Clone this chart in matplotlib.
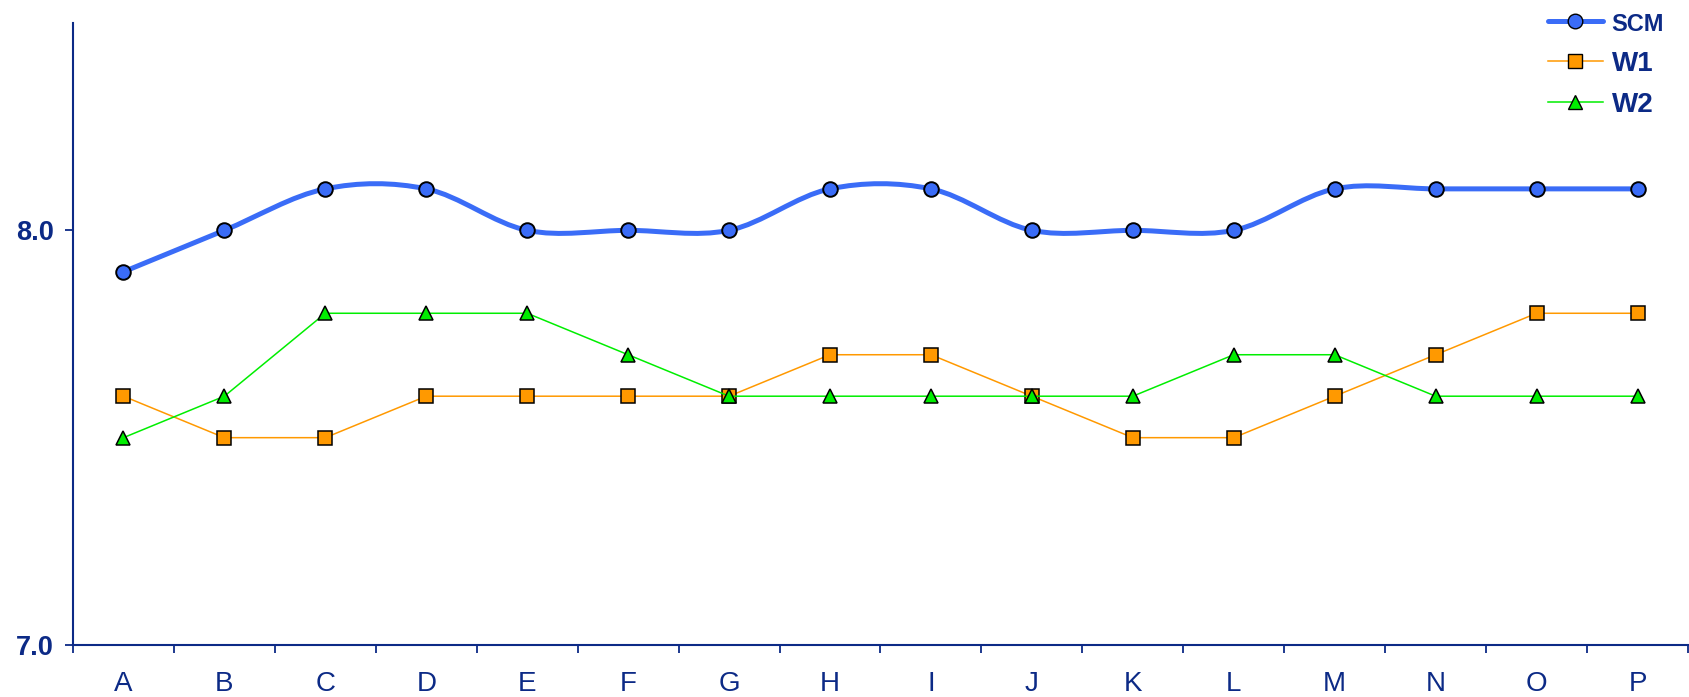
import matplotlib
matplotlib.use("Agg")

import matplotlib.pyplot as plt
import numpy as np
from matplotlib.path import Path
from matplotlib.patches import PathPatch
from matplotlib.lines import Line2D

plt.rcParams["font.family"] = ["Liberation Sans", "DejaVu Sans"]

categories = ["A", "B", "C", "D", "E", "F", "G", "H", "I", "J", "K", "L", "M", "N", "O", "P"]
scm = [7.9, 8.0, 8.1, 8.1, 8.0, 8.0, 8.0, 8.1, 8.1, 8.0, 8.0, 8.0, 8.1, 8.1, 8.1, 8.1]
w1 = [7.6, 7.5, 7.5, 7.6, 7.6, 7.6, 7.6, 7.7, 7.7, 7.6, 7.5, 7.5, 7.6, 7.7, 7.8, 7.8]
w2 = [7.5, 7.6, 7.8, 7.8, 7.8, 7.7, 7.6, 7.6, 7.6, 7.6, 7.6, 7.7, 7.7, 7.6, 7.6, 7.6]

NAVY = "#0c2a86"
BLUE = "#3a6cf7"
ORANGE = "#ff9900"
GREEN = "#00ee00"


def smooth_path(x, y):
    # bezier curve through the points (like a spreadsheet "smoothed line")
    pts = np.column_stack([x, y]).astype(float)
    n = len(pts)
    verts = [pts[0]]
    codes = [Path.MOVETO]
    for i in range(n - 1):
        p0 = pts[max(i - 1, 0)]
        p1 = pts[i]
        p2 = pts[i + 1]
        p3 = pts[min(i + 2, n - 1)]
        c1 = p1 + (p2 - p0) / 6.0
        c2 = p2 - (p3 - p1) / 6.0
        verts += [c1, c2, p2]
        codes += [Path.CURVE4] * 3
    return Path(verts, codes)


fig = plt.figure(figsize=(16.89, 6.97), dpi=100)
ax = fig.add_axes([0.0432, 0.0746, 0.9562, 0.8924])

x = np.arange(len(categories))

ax.add_patch(PathPatch(smooth_path(x, scm), fill=False, edgecolor=BLUE,
                       linewidth=3.6, capstyle="round", zorder=3))
ax.plot(x, scm, linestyle="none", marker="o", markersize=10.5,
        markerfacecolor=BLUE, markeredgecolor="black", markeredgewidth=1.4, zorder=5)
ax.plot(x, w1, color=ORANGE, linewidth=1.1, marker="s", markersize=9.5,
        markerfacecolor=ORANGE, markeredgecolor="black", markeredgewidth=1.1, zorder=4)
ax.plot(x, w2, color=GREEN, linewidth=1.1, marker="^", markersize=10.5,
        markerfacecolor=GREEN, markeredgecolor="black", markeredgewidth=1.1, zorder=4)

ax.set_xlim(-0.5, len(categories) - 0.5)
ax.set_ylim(7.0, 8.5)
ax.set_yticks([7.0, 8.0])
ax.set_yticklabels(["7.0", "8.0"], fontsize=19.5, fontweight="bold", color=NAVY)

ax.set_xticks(x)
ax.set_xticklabels(categories, fontsize=20, color=NAVY)
ax.set_xticks(np.arange(-0.5, len(categories)), minor=True)
ax.tick_params(axis="x", which="major", length=0, pad=19)
ax.tick_params(axis="x", which="minor", length=6, width=1.3, color=NAVY)
ax.tick_params(axis="y", length=6, width=1.3, color=NAVY, pad=8)

for s in ("top", "right"):
    ax.spines[s].set_visible(False)
for s in ("left", "bottom"):
    ax.spines[s].set_color(NAVY)
    ax.spines[s].set_linewidth(1.5)

handles = [
    Line2D([], [], color=BLUE, linewidth=3.6, marker="o", markersize=10.5,
           markerfacecolor=BLUE, markeredgecolor="black", solid_capstyle="round"),
    Line2D([], [], color=ORANGE, linewidth=1.1, marker="s", markersize=9.5,
           markerfacecolor=ORANGE, markeredgecolor="black"),
    Line2D([], [], color=GREEN, linewidth=1.1, marker="^", markersize=10.5,
           markerfacecolor=GREEN, markeredgecolor="black"),
]
leg = fig.legend(handles, ["SCM", "W1", "W2"], loc="upper right",
                 bbox_to_anchor=(1.0, 1.02), frameon=False, handlelength=2.0,
                 labelspacing=0.55, handletextpad=0.3,
                 prop={"size": 20, "weight": "bold"})
for t in leg.get_texts():
    t.set_color(NAVY)
# the SCM label is drawn in a narrow face in the reference
leg.get_texts()[0].set_fontsize(17)

fig.savefig("out.png", dpi=100)
plt.close(fig)
